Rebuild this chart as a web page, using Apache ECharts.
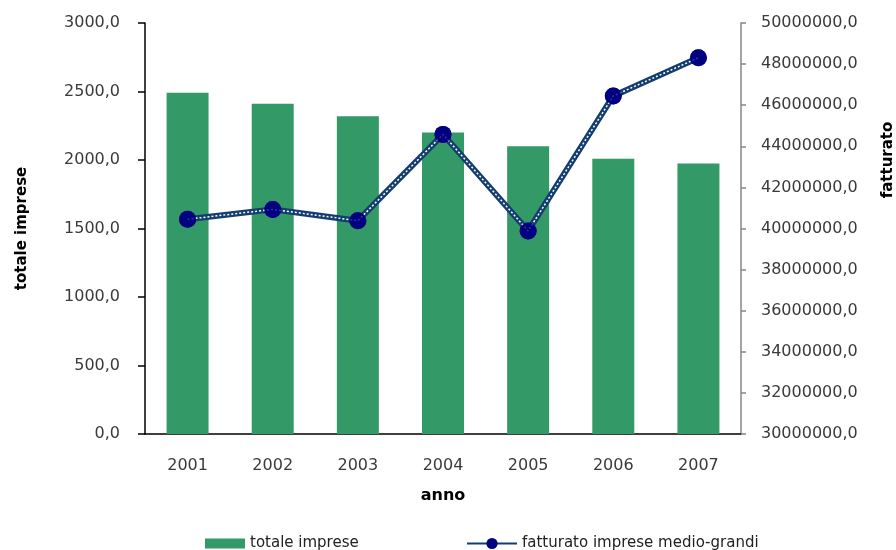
<!DOCTYPE html>
<html>
<head>
<meta charset="utf-8">
<script src="https://cdn.jsdelivr.net/npm/echarts@6/dist/echarts.min.js"></script>
<style>
  html, body { margin: 0; padding: 0; background: #fff; }
  #chart { width: 896px; height: 550px; }
</style>
</head>
<body>
<div id="chart"></div>
<script>
// Years on the category axis
const anni = ['2001', '2002', '2003', '2004', '2005', '2006', '2007'];
// Total number of firms per year (left axis)
const totaleImprese = [2490, 2410, 2320, 2200, 2100, 2010, 1975];
// Turnover of medium-large firms (right axis)
const fatturato = [40450000, 40930000, 40380000, 44580000, 39880000, 46450000, 48310000];

const FONT = 'DejaVu Sans';
const fmt = v => v.toFixed(1).replace('.', ',');

const chart = echarts.init(document.getElementById('chart'), null, { renderer: 'canvas' });

chart.setOption({
  animation: false,
  backgroundColor: '#ffffff',
  textStyle: { fontFamily: FONT },
  grid: { left: 145, right: 155, top: 23, bottom: 116, containLabel: false },
  legend: [
    {
      data: [{ name: 'totale imprese', icon: 'rect' }],
      left: 200, top: 531,
      itemWidth: 40, itemHeight: 10, itemGap: 5,
      textStyle: { fontFamily: FONT, fontSize: 15, color: '#222' }
    },
    {
      data: ['fatturato imprese medio-grandi'],
      left: 461, top: 531,
      itemWidth: 50, itemHeight: 14, itemGap: 5,
      textStyle: { fontFamily: FONT, fontSize: 15, color: '#222' }
    }
  ],
  xAxis: {
    type: 'category',
    data: anni,
    name: 'anno',
    nameLocation: 'middle',
    nameGap: 54,
    nameTextStyle: { fontFamily: FONT, fontSize: 16, fontWeight: 'bold', color: '#000' },
    axisLine: { lineStyle: { color: '#000', width: 1.5 } },
    axisTick: { show: false },
    axisLabel: { margin: 24, fontSize: 16, color: '#3a3a3a', fontFamily: FONT }
  },
  yAxis: [
    {
      type: 'value',
      min: 0, max: 3000, interval: 500,
      name: 'totale imprese',
      nameLocation: 'middle',
      nameGap: 115,
      nameTextStyle: { fontFamily: FONT, fontSize: 15, fontWeight: 'bold', color: '#000' },
      axisLine: { show: true, lineStyle: { color: '#000', width: 1.5 } },
      axisTick: { show: true, length: 7, lineStyle: { color: '#000', width: 1.5 } },
      axisLabel: { margin: 25, fontSize: 16, color: '#3a3a3a', fontFamily: FONT, formatter: fmt },
      splitLine: { show: false }
    },
    {
      type: 'value',
      min: 30000000, max: 50000000, interval: 2000000,
      position: 'right',
      axisLine: { show: true, lineStyle: { color: '#868686', width: 1.5 } },
      axisTick: { show: true, length: 5, lineStyle: { color: '#868686', width: 1.5 } },
      axisLabel: { margin: 20, fontSize: 16, color: '#3a3a3a', fontFamily: FONT, formatter: fmt },
      splitLine: { show: false }
    }
  ],
  graphic: [
    {
      type: 'text',
      x: 888, y: 160,
      rotation: Math.PI / 2,
      style: {
        text: 'fatturato',
        font: 'bold 15px "DejaVu Sans"',
        fill: '#000',
        align: 'center',
        verticalAlign: 'middle'
      }
    }
  ],
  series: [
    {
      name: 'totale imprese',
      type: 'bar',
      yAxisIndex: 0,
      data: totaleImprese,
      barWidth: 42,
      itemStyle: { color: '#339966' },
      z: 1
    },
    {
      // thick navy stroke with markers (legend entry)
      name: 'fatturato imprese medio-grandi',
      type: 'line',
      yAxisIndex: 1,
      data: fatturato,
      symbol: 'circle',
      symbolSize: 17,
      itemStyle: { color: '#000080' },
      lineStyle: { color: '#123d6e', width: 6 },
      z: 2
    },
    {
      // white dotted core of the line
      name: 'fatturato-core',
      type: 'line',
      yAxisIndex: 1,
      data: fatturato,
      showSymbol: false,
      symbol: 'none',
      lineStyle: { color: '#ffffff', width: 1.5, type: [2, 2] },
      silent: true,
      z: 3
    },
    {
      // markers redrawn above the dotted core
      name: 'fatturato-markers',
      type: 'scatter',
      yAxisIndex: 1,
      data: fatturato,
      symbol: 'circle',
      symbolSize: 17,
      itemStyle: { color: '#000080' },
      silent: true,
      z: 4
    }
  ]
});
</script>
</body>
</html>
